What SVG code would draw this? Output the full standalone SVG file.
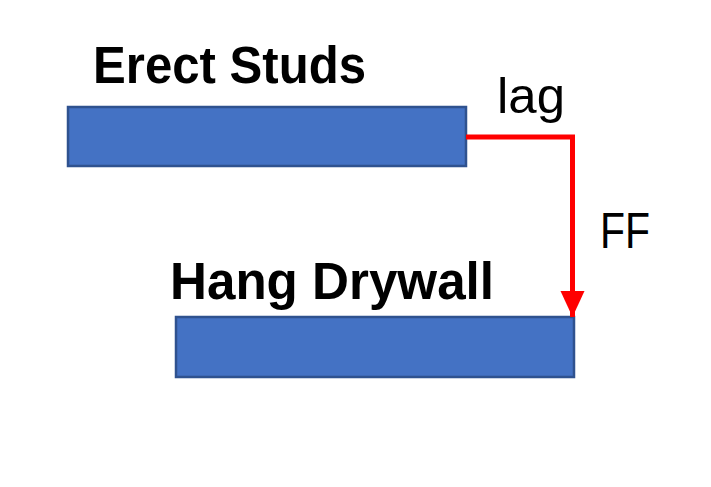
<svg xmlns="http://www.w3.org/2000/svg" width="711" height="487" viewBox="0 0 711 487">
<style>
.bar{fill:#4472C4;stroke:#2F528F;stroke-width:2.5}
.title{font-family:"Liberation Sans",Arial,sans-serif;font-weight:bold;font-size:51px;fill:#000}
.lbl{font-family:"Liberation Sans",Arial,sans-serif;font-size:50px;fill:#000}
.link{fill:none;stroke:#FF0000;stroke-width:5}
</style>
<defs>
<marker id="arr" markerUnits="userSpaceOnUse" markerWidth="26" markerHeight="26" viewBox="0 0 26 26" refX="26" refY="12" orient="auto">
<path d="M0,0 L26,12 L0,24 Z" fill="#FF0000"/>
</marker>
</defs>
<rect width="711" height="487" fill="#fff"/>
<g id="erect-studs">
<text class="title" x="93" y="83" textLength="273" lengthAdjust="spacingAndGlyphs">Erect Studs</text>
<rect class="bar" x="68" y="107" width="398" height="59"/>
</g>
<g id="hang-drywall">
<text class="title" x="170" y="299" textLength="324" lengthAdjust="spacingAndGlyphs">Hang Drywall</text>
<rect class="bar" x="176" y="317" width="398" height="60"/>
</g>
<g id="connectors">
<path class="link" d="M466,137 H572.5 V317" marker-end="url(#arr)"/>
<text class="lbl" x="497" y="113" textLength="68" lengthAdjust="spacingAndGlyphs">lag</text>
<text class="lbl" x="600" y="248" textLength="50" lengthAdjust="spacingAndGlyphs">FF</text>
</g>
</svg>
